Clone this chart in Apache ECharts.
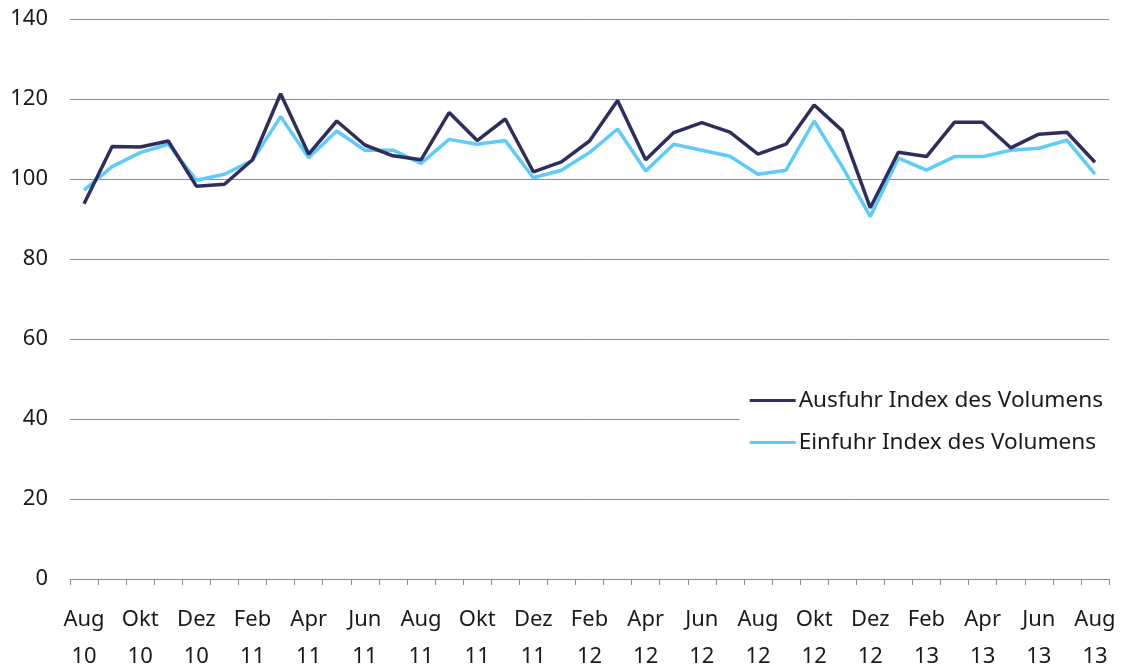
<!DOCTYPE html>
<html>
<head>
<meta charset="utf-8">
<script src="https://cdn.jsdelivr.net/npm/echarts@6/dist/echarts.min.js"></script>
<style>
  html, body { margin: 0; padding: 0; background: #fff; }
  #main { width: 1121px; height: 666px; }
</style>
</head>
<body>
<div id="main"></div>
<script>
// Monate Aug 10 .. Aug 13
const months = ['Aug\n10', 'Sep\n10', 'Okt\n10', 'Nov\n10', 'Dez\n10', 'Jan\n11', 'Feb\n11', 'Mär\n11', 'Apr\n11', 'Mai\n11',
  'Jun\n11', 'Jul\n11', 'Aug\n11', 'Sep\n11', 'Okt\n11', 'Nov\n11', 'Dez\n11', 'Jan\n12', 'Feb\n12', 'Mär\n12',
  'Apr\n12', 'Mai\n12', 'Jun\n12', 'Jul\n12', 'Aug\n12', 'Sep\n12', 'Okt\n12', 'Nov\n12', 'Dez\n12', 'Jan\n13',
  'Feb\n13', 'Mär\n13', 'Apr\n13', 'Mai\n13', 'Jun\n13', 'Jul\n13', 'Aug\n13']

const ausfuhr = [93.8, 108.1, 108.0, 109.5, 98.2, 98.7, 104.8, 121.3, 106.2, 114.5,
  108.5, 105.8, 104.8, 116.6, 109.6, 115.0, 101.8, 104.3, 109.5, 119.6,
  104.8, 111.6, 114.1, 111.7, 106.2, 108.7, 118.5, 112.1, 92.8, 106.7,
  105.6, 114.2, 114.2, 107.8, 111.2, 111.7, 104.2]

const einfuhr = [97.2, 103.1, 106.6, 108.7, 99.7, 101.2, 104.7, 115.6, 105.3, 112.0,
  107.2, 107.2, 103.9, 109.9, 108.7, 109.6, 100.3, 102.2, 106.6, 112.5,
  102.0, 108.7, 107.2, 105.7, 101.2, 102.2, 114.5, 103.1, 90.6, 105.2,
  102.2, 105.6, 105.6, 107.2, 107.7, 109.7, 101.2]

const yTicks = { min: 0, max: 140, step: 20 }

const font = '"Noto Sans", sans-serif'
let myChart = echarts.init(document.getElementById('main'))
myChart.setOption({
  animation: false,
  textStyle: { fontFamily: font },
  grid: { left: 70, right: 12, top: 19, bottom: 87, outerBoundsMode: 'none', containLabel: false },
  legend: {
    orient: 'vertical',
    right: 4,
    top: 383,
    backgroundColor: '#fff',
    padding: [6, 14, 6, 10],
    itemWidth: 46,
    itemHeight: 3,
    itemGap: 19,
    icon: 'rect',
    textStyle: { fontFamily: font, fontSize: 22.6, color: '#1a1a1a', padding: [0, 0, 0, -2] },
    data: ['Ausfuhr Index des Volumens', 'Einfuhr Index des Volumens']
  },
  xAxis: [{
    type: 'category',
    boundaryGap: true,
    data: months,
    axisLine: { lineStyle: { color: '#8c8c8c', width: 1 } },
    axisTick: { show: true, interval: 0, length: 6, lineStyle: { color: '#8c8c8c' } },
    axisLabel: {
      interval: 1,
      margin: 22,
      color: '#1a1a1a',
      fontSize: 22,
      lineHeight: 37,
      fontFamily: font
    },
    splitLine: { show: false }
  }],
  yAxis: [{
    type: 'value',
    min: yTicks.min,
    max: yTicks.max,
    interval: yTicks.step,
    axisLine: { show: false },
    axisTick: { show: false },
    axisLabel: { color: '#1a1a1a', fontSize: 22, margin: 22, fontFamily: font },
    splitLine: { lineStyle: { color: '#8c8c8c', width: 1 } }
  }],
  series: [
    {
      name: 'Ausfuhr Index des Volumens',
      type: 'line',
      symbol: 'none',
      data: ausfuhr,
      itemStyle: { color: '#2d2e5e' },
      lineStyle: { color: '#2d2e5e', width: 3.5 },
      z: 3
    },
    {
      name: 'Einfuhr Index des Volumens',
      type: 'line',
      symbol: 'none',
      data: einfuhr,
      itemStyle: { color: '#5ecbfa' },
      lineStyle: { color: '#5ecbfa', width: 3.5 },
      z: 2
    }
  ]
})
</script>
</body>
</html>
